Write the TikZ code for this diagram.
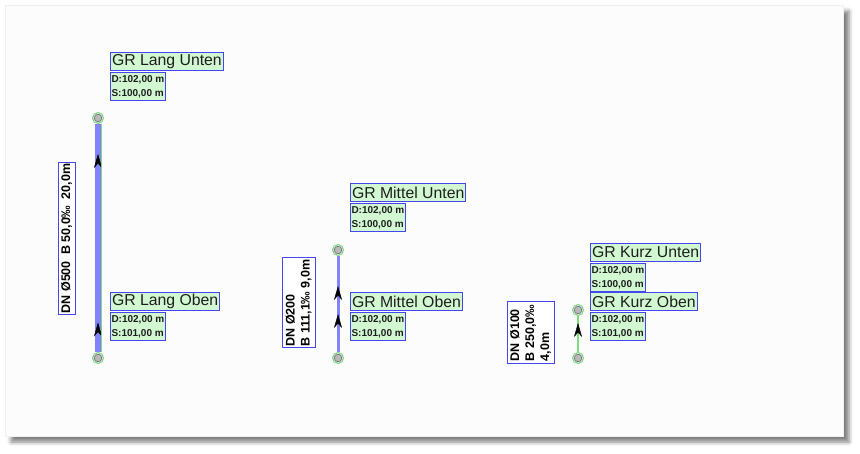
\documentclass[tikz,border=0pt]{standalone}
\usepackage{fontspec}
\setmainfont{Liberation Sans}
\usetikzlibrary{positioning,arrows.meta,decorations.markings,shadows.blur}
\definecolor{rahmen}{HTML}{4646EE}
\definecolor{feld}{HTML}{D2F8D2}
\definecolor{rohrblau}{HTML}{8282FA}
\definecolor{ring}{HTML}{7CDC7C}
\definecolor{schrift}{HTML}{1E1E1E}
\tikzset{rohrpfeil/.tip={Stealth[length=14pt,width=8pt,inset=4.5pt,line width=.4pt,color=black]}}

\begin{document}
\begin{tikzpicture}[x=1pt,y=-1pt,
		schacht/.style={circle,draw=ring,line width=1pt,fill=blue!12,minimum size=11pt,inner sep=0pt,
			path picture={\draw[gray!85!black,line width=.6pt,fill=gray!55] (path picture bounding box.center) circle (3.8pt);}},
		titel/.style={draw=rahmen,fill=feld,line width=1pt,text=schrift,inner xsep=1.5pt,inner ysep=0pt,
			minimum height=18pt,anchor=north west,font=\fontsize{15.8}{17}\selectfont},
		werte/.style={draw=rahmen,fill=feld,line width=1pt,text=schrift,inner sep=1pt,minimum height=28pt,
			align=left,font=\bfseries\fontsize{10}{14}\selectfont},
		haltung/.style={draw=rahmen,fill=white,line width=1pt,text=black,rotate=90,inner sep=1pt,
			align=left,font=\bfseries\fontsize{12.5}{15}\selectfont},
		rohr/.style={rohrblau,line width=#1},
		pfeile/.style={postaction={decorate,decoration={markings,mark=at position #1 with {\arrow{rohrpfeil}}}}}]
		\useasboundingbox (0,0) rectangle (860,454);
		\fill[black!1,draw=black!6,blur shadow={shadow xshift=6pt,shadow yshift=-6pt,shadow blur radius=4pt,shadow opacity=50}]
			(5,5) rectangle (843,436);
		%%%%%%%%%%%%%%%%%%%%%%%%%%%%%%%%%
		\node[schacht] (lob) at (98,358){};
		\node[schacht] (lun) at (98,118){};
		\draw[rohr=6pt,pfeile=29.5pt,pfeile=198pt] (lob) -- (lun);
		\draw[ring,line width=1pt] ([xshift=3.5pt]lob.north) -- ([xshift=3.5pt]lun.south);
		\node[titel] (lunt) at (110,52){GR Lang Unten};
		\node[werte,below right=1pt and 0pt of lunt.south west] (lunw){D:102,00 m\\S:100,00 m};
		\node[titel] (lobt) at (110,292){GR Lang Oben};
		\node[werte,below right=1pt and 0pt of lobt.south west] (lobw){D:102,00 m\\S:101,00 m};
		\node[haltung,minimum width=149pt,minimum height=17pt] (lh) at (66.5,238.5){DN Ø500\enspace B 50,0‰\enspace 20,0m};
		%%%%%%%%%%%%%%%%%%%%%%%%%%%%%%%%%
		\node[schacht] (mob) at (338,358){};
		\node[schacht] (mun) at (338,250){};
		\draw[rohr=3pt,pfeile=38pt,pfeile=66pt] (mob) -- (mun);
		\node[titel] (munt) at (350,183){GR Mittel Unten};
		\node[werte,below right=1pt and 0pt of munt.south west] (munw){D:102,00 m\\S:100,00 m};
		\node[titel] (mobt) at (350,292){GR Mittel Oben};
		\node[werte,below right=1pt and 0pt of mobt.south west] (mobw){D:102,00 m\\S:101,00 m};
		\node[haltung,minimum width=90pt,minimum height=33pt] (mh) at (298.5,303){DN Ø200\\B 111,1‰ 9,0m};
		%%%%%%%%%%%%%%%%%%%%%%%%%%%%%%%%%
		\node[schacht] (kob) at (578,358){};
		\node[schacht] (kun) at (578,310){};
		\draw[ring,line width=1.3pt,pfeile=29pt] (kob) -- (kun);
		\node[titel] (kunt) at (590,243){GR Kurz Unten};
		\node[werte,below right=1pt and 0pt of kunt.south west] (kunw){D:102,00 m\\S:100,00 m};
		\node[titel] (kobt) at (590,292){GR Kurz Oben};
		\node[werte,below right=1pt and 0pt of kobt.south west] (kobw){D:102,00 m\\S:101,00 m};
		\node[haltung,minimum width=62pt,minimum height=47pt] (kh) at (530.5,333){DN Ø100\\B 250,0‰\\4,0m};
	\end{tikzpicture}
\end{document}
